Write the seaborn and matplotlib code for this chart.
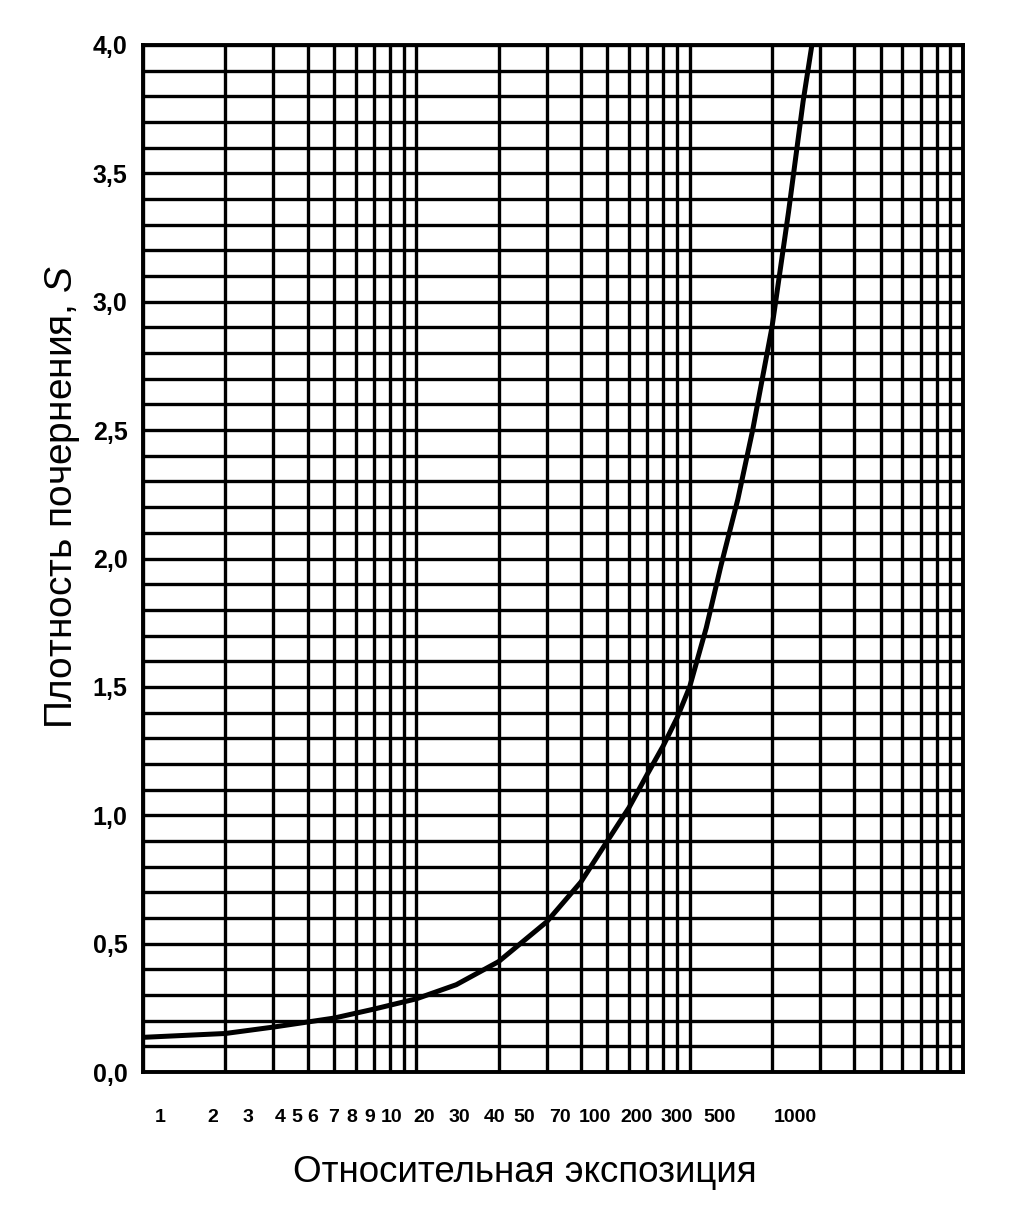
import matplotlib
matplotlib.use("Agg")
import numpy as np
import pandas as pd
import matplotlib.pyplot as plt
import matplotlib.ticker as mticker
import seaborn as sns

# characteristic curve (x is log scale 1..1000)
exposure = [1, 2, 3, 5, 7, 10, 14, 20, 30, 40, 50, 60, 70, 80, 90,
            100, 115, 130, 150, 170, 200, 230, 260, 280]
density = [0.135, 0.15, 0.175, 0.21, 0.245, 0.285, 0.34, 0.43, 0.585, 0.74, 0.90, 1.03,
           1.16, 1.27, 1.38, 1.50, 1.73, 1.97, 2.23, 2.50, 2.90, 3.35, 3.78, 4.00]

# label row printed under the grid (not aligned with the grid in the source)
row_labels = ['1', '2', '3', '4', '5', '6', '7', '8', '9', '10', '20', '30', '40',
              '50', '70', '100', '200', '300', '500', '1000']
row_label_px = [160, 213, 248, 280, 297, 313, 334, 352, 370, 392, 424, 459, 495,
                524, 560, 595, 636, 677, 720, 795]

y_ticks = [0.0, 0.5, 1.0, 1.5, 2.0, 2.5, 3.0, 3.5, 4.0]

sns.set_style("white")
plt.rcParams['font.family'] = ['Liberation Sans', 'DejaVu Sans']
plt.rcParams['mathtext.fontset'] = 'custom'
plt.rcParams['mathtext.it'] = 'Liberation Sans:italic'
plt.rcParams['mathtext.rm'] = 'Liberation Sans'
for key in ['text.color', 'axes.labelcolor', 'xtick.color', 'ytick.color']:
    plt.rcParams[key] = 'black'

W, H = 1013, 1214
fig = plt.figure(figsize=(W / 100, H / 100), dpi=100)
ax = fig.add_axes([143 / W, 1 - 1072 / H, (963 - 143) / W, (1072 - 45) / H])

df = pd.DataFrame({'exposure': exposure, 'density': density})
sns.lineplot(data=df, x='exposure', y='density', ax=ax, color='black',
             linewidth=3.6, zorder=5)

ax.set_xscale('log')
ax.set_xlim(1, 1000)
ax.set_ylim(0, 4.0)

ax.xaxis.set_major_locator(mticker.LogLocator(base=10, numticks=10))
ax.xaxis.set_minor_locator(mticker.LogLocator(base=10, subs=np.arange(2, 10), numticks=20))
ax.xaxis.set_major_formatter(mticker.NullFormatter())
ax.xaxis.set_minor_formatter(mticker.NullFormatter())

ax.set_yticks(y_ticks)
ax.yaxis.set_minor_locator(mticker.MultipleLocator(0.1))
ax.yaxis.set_major_formatter(mticker.FuncFormatter(lambda v, _: f"{v:.1f}".replace('.', ',')))

ax.grid(which='both', color='black', linewidth=2.4)
ax.tick_params(axis='both', which='both', length=0)
ax.tick_params(axis='y', pad=11, labelsize=18)
for lbl in ax.get_yticklabels():
    lbl.set_fontweight('bold')

for sp in ax.spines.values():
    sp.set_color('black')
    sp.set_linewidth(2.8)

ax.set_xlabel('')
ax.set_ylabel('')

# label row under the plot
for txt, px in zip(row_labels, row_label_px):
    fig.text(px / W, 1 - 1118 / H, txt, ha='center', va='center',
             fontsize=14, fontweight='bold')

fig.text(525 / W, 1 - 1173 / H, 'Относительная экспозиция',
         ha='center', va='center', fontsize=26.5)
fig.text(63 / W, 1 - 497 / H, 'Плотность почернения, $S$',
         ha='center', va='center', rotation=90, fontsize=28)

plt.savefig('out.png', dpi=100)
plt.close()
